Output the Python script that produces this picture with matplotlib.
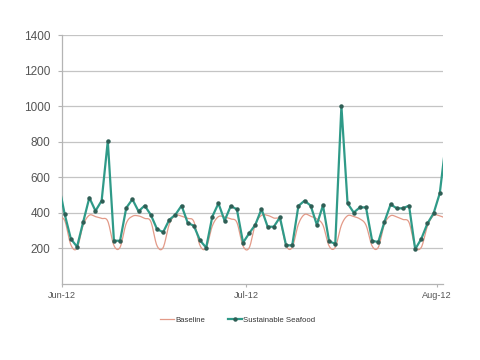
import numpy as np
import pandas as pd
import matplotlib
matplotlib.use("Agg")
import matplotlib.pyplot as plt
import matplotlib.dates as mdates

# daily values, May 31 2012 .. Aug 2 2012 (first/last are cut by the axes)
days = pd.date_range("2012-05-31 12:00", "2012-08-02 12:00", freq="D")

seafood = [563,
           390, 252, 208, 348, 485, 410, 468, 805, 242, 242,
           427, 476, 408, 440, 388, 308, 290, 360, 389, 440,
           343, 326, 244, 203, 378, 453, 355, 438, 419, 231,
           284, 332, 421, 321, 321, 374, 216, 216, 438, 468,
           440, 332, 442, 238, 225, 1002, 453, 401, 430, 430,
           241, 235, 349, 447, 425, 425, 440, 194, 253, 340,
           397, 510,
           802]

baseline = [372,
            355, 218, 200, 330, 386, 378, 368, 352, 215, 205,
            340, 380, 382, 368, 350, 214, 203, 335, 385, 380,
            368, 350, 215, 202, 325, 378, 375, 365, 345, 212,
            202, 335, 385, 385, 370, 355, 215, 205, 335, 390,
            380, 365, 330, 212, 205, 330, 383, 378, 365, 330,
            212, 205, 335, 383, 376, 362, 345, 210, 205, 325,
            385, 382,
            370]

yticks = [200, 400, 600, 800, 1000, 1200, 1400]
month_ticks = ["2012-06-01", "2012-07-01", "2012-08-01"]


def smooth(x, y, n=12):
    # catmull-rom, like the "smoothed line" option in a spreadsheet
    y = np.asarray(y, dtype=float)
    yp = np.concatenate([[y[0]], y, [y[-1]]])
    xs, ys = [], []
    t = np.linspace(0, 1, n, endpoint=False)
    for i in range(len(y) - 1):
        p0, p1, p2, p3 = yp[i], yp[i + 1], yp[i + 2], yp[i + 3]
        seg = 0.5 * ((2 * p1) + (-p0 + p2) * t + (2 * p0 - 5 * p1 + 4 * p2 - p3) * t ** 2
                     + (-p0 + 3 * p1 - 3 * p2 + p3) * t ** 3)
        xs.append(x[i] + (x[i + 1] - x[i]) * t)
        ys.append(seg)
    xs.append([x[-1]])
    ys.append([y[-1]])
    return np.concatenate(xs), np.concatenate(ys)


plt.rcParams["font.family"] = ["Liberation Sans", "DejaVu Sans"]

fig = plt.figure(figsize=(4.8, 3.6), dpi=100)
ax = fig.add_axes([0.1285, 0.2122, 0.795, 0.6892])

xnum = mdates.date2num(days)
bx, by = smooth(xnum, baseline)
ax.plot(bx, by, color="#e39a88", lw=0.9, label="Baseline", zorder=3)
ax.plot(xnum, seafood, color="#2f9a88", lw=1.6, marker="o", markersize=2.2,
        markerfacecolor="#2f5e55", markeredgecolor="#2f5e55",
        label="Sustainable Seafood", zorder=4)

ax.set_ylim(0, 1400)
ax.set_yticks(yticks)
ax.set_xlim(mdates.date2num(pd.Timestamp("2012-06-01")),
            mdates.date2num(pd.Timestamp("2012-08-02 01:40")))
ax.set_xticks(mdates.date2num(pd.to_datetime(month_ticks)))
ax.xaxis.set_major_formatter(mdates.DateFormatter("%b-%y"))

ax.grid(axis="y", color="#c4c4c4", lw=0.9)
ax.set_axisbelow(True)
for s in ["top", "right"]:
    ax.spines[s].set_visible(False)
for s in ["left", "bottom"]:
    ax.spines[s].set_color("#b4b4b4")
    ax.spines[s].set_linewidth(0.9)

ax.tick_params(axis="y", length=3, color="#b4b4b4", labelsize=8.5,
               labelcolor="#555555", pad=5)
ax.tick_params(axis="x", length=2.5, color="#b4b4b4", labelsize=6.6,
               labelcolor="#555555", pad=3)

fig.legend(loc="center", bbox_to_anchor=(0.495, 0.111), ncol=2, frameon=False,
           fontsize=5.6, handlelength=1.8, handletextpad=0.1, columnspacing=3.0,
           labelcolor="#333333")

fig.savefig("out.png", dpi=100)
